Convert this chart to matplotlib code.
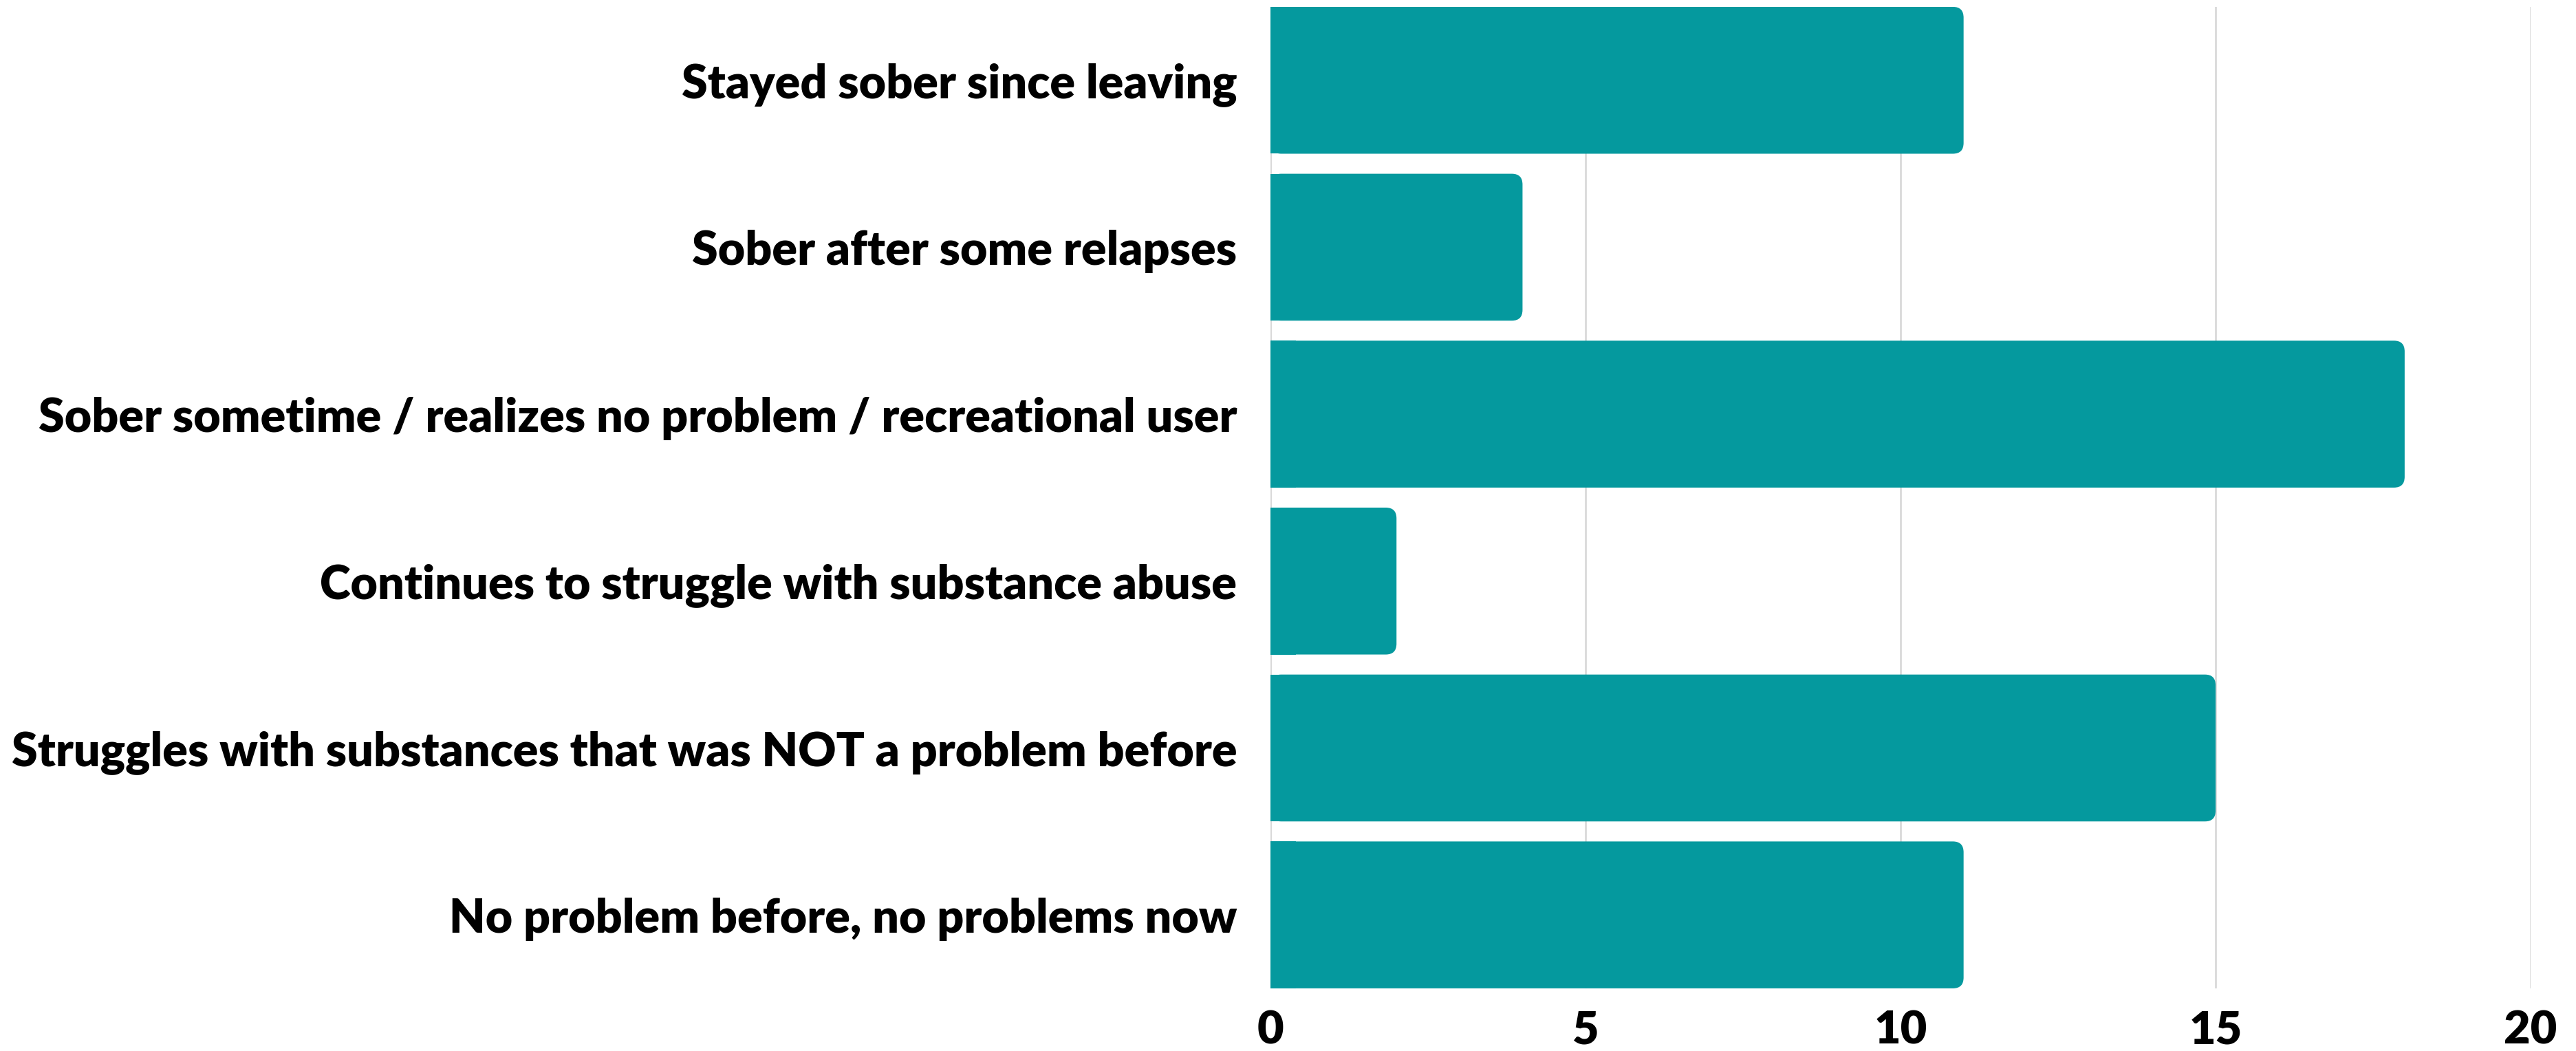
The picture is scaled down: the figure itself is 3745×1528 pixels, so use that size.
import matplotlib
matplotlib.use("Agg")
import matplotlib.pyplot as plt
from matplotlib.patches import FancyBboxPatch

# dados do grafico
categorias = [
    "Stayed sober since leaving",
    "Sober after some relapses",
    "Sober sometime / realizes no problem / recreational user",
    "Continues to struggle with substance abuse",
    "Struggles with substances that was NOT a problem before",
    "No problem before, no problems now",
]
valores = [11, 4, 18, 2, 15, 11]
ticks_x = [0, 5, 10, 15, 20]

COR_BARRA = "#05999E"
COR_GRADE = "#d9d9d9"

plt.rcParams["font.family"] = ["Lato", "DejaVu Sans"]

fig = plt.figure(figsize=(37.45, 15.28), dpi=100)
ax = fig.add_axes([0.4932, 0.0596, 0.4892, 0.9339])

posicoes = list(range(len(categorias)))
barras = ax.barh(posicoes, valores, height=0.88, color=COR_BARRA, zorder=2)

# cantos arredondados so do lado direito
for barra in barras:
    x0, y0 = barra.get_x(), barra.get_y()
    w, h = barra.get_width(), barra.get_height()
    barra.set_width(min(w / 2, 0.4))
    ax.add_patch(FancyBboxPatch(
        (x0, y0), w, h,
        boxstyle="round,pad=0,rounding_size=0.17",
        mutation_aspect=0.38,
        facecolor=COR_BARRA, edgecolor="none", zorder=2
    ))

ax.set_xlim(0, 20)
ax.set_ylim(len(categorias) - 0.56, -0.44)
ax.set_xticks(ticks_x)
ax.set_yticks(posicoes)
ax.set_yticklabels(categorias)

for lado in ["top", "right", "bottom", "left"]:
    ax.spines[lado].set_visible(False)

ax.grid(axis="x", color=COR_GRADE, linewidth=2, zorder=0)
ax.axvline(0, color=COR_GRADE, linewidth=2, zorder=1)

ax.tick_params(axis="both", length=0)
ax.tick_params(axis="x", pad=22, labelsize=48)
ax.tick_params(axis="y", pad=35, labelsize=49)
for rotulo in ax.get_xticklabels() + ax.get_yticklabels():
    rotulo.set_fontweight("heavy")
    rotulo.set_color("black")

fig.savefig("out.png", dpi=100)
plt.close(fig)
